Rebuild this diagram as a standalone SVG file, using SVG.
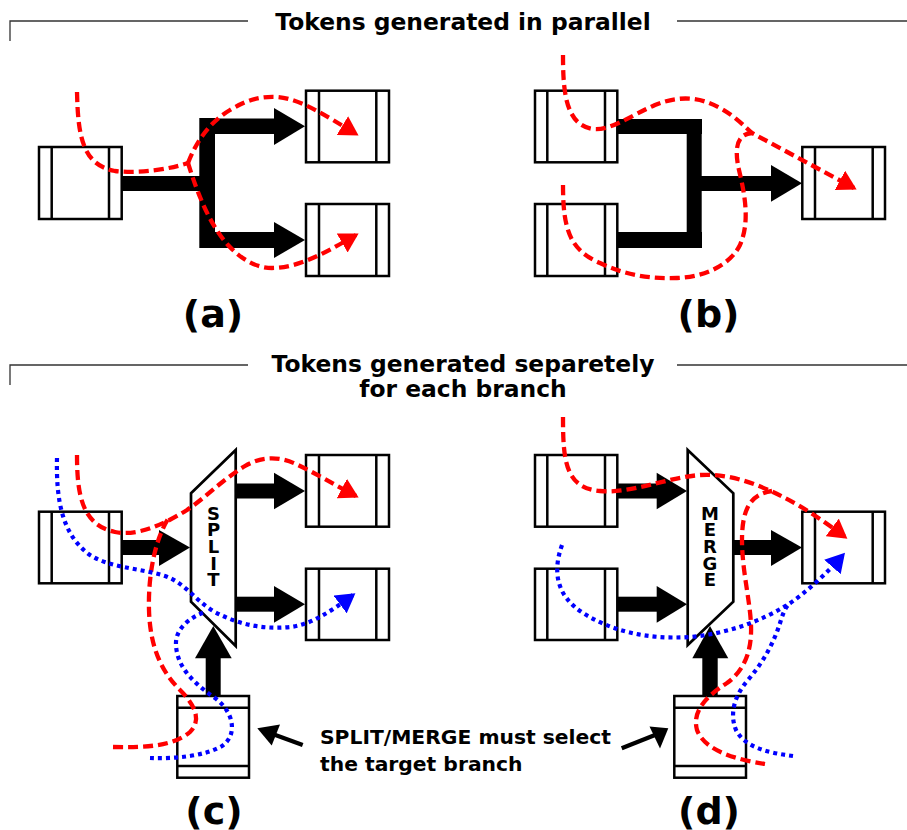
<svg xmlns="http://www.w3.org/2000/svg" width="907" height="830" viewBox="0 0 907 830">
<style>
.box{fill:#fff;stroke:#000;stroke-width:2.5}
.in{stroke:#000;stroke-width:2.5}
.mux{fill:#fff;stroke:#000;stroke-width:2.7;stroke-linejoin:miter}
.sep{fill:none;stroke:#333;stroke-width:1.3}
.title{font-family:"DejaVu Sans","Liberation Sans",sans-serif;font-weight:bold;font-size:23.4px;text-anchor:middle;fill:#000}
.lab{font-family:"DejaVu Sans","Liberation Sans",sans-serif;font-weight:bold;font-size:38px;text-anchor:middle;fill:#000}
.note{font-family:"DejaVu Sans","Liberation Sans",sans-serif;font-weight:bold;font-size:20.3px;fill:#000}
.mt{font-family:"DejaVu Sans","Liberation Sans",sans-serif;font-weight:bold;font-size:18px;text-anchor:middle;fill:#000}
.red{fill:none;stroke:#f00;stroke-width:4.3;stroke-dasharray:10,5}
.blue{fill:none;stroke:#00f;stroke-width:4.2;stroke-dasharray:4,4}
.ptr{fill:none;stroke:#000;stroke-width:4.2}
</style>
<defs>
<marker id="ra" markerUnits="userSpaceOnUse" markerWidth="20" markerHeight="22" viewBox="0 0 20 22" refX="16" refY="11" orient="auto"><path d="M0,0 L19,11 L0,22 Z" fill="#f00"/></marker>
<marker id="ba" markerUnits="userSpaceOnUse" markerWidth="20" markerHeight="22" viewBox="0 0 20 22" refX="16" refY="11" orient="auto"><path d="M0,0 L19,11 L0,22 Z" fill="#00f"/></marker>
</defs>

<!-- section headers -->
<g id="header-top">
<path class="sep" d="M10,41 V21 H248 M677,21 H907"/>
<text class="title" x="463" y="30">Tokens generated in parallel</text>
</g>
<g id="header-bottom">
<path class="sep" d="M10,385 V365 H248 M677,365 H907"/>
<text class="title" x="463" y="371.5">Tokens generated separetely</text>
<text class="title" x="463" y="396.5">for each branch</text>
</g>

<!-- thick connectors -->
<g id="connectors" fill="#000">
<!-- (a) -->
<rect x="120" y="176" width="81" height="15"/>
<rect x="199.3" y="118" width="15.7" height="130"/>
<rect x="214" y="118.5" width="61" height="15.5"/>
<polygon points="274,108 305,126.3 274,145"/>
<rect x="214" y="232" width="61" height="16"/>
<polygon points="274,222 305,240 274,258"/>
<!-- (b) -->
<rect x="616" y="119" width="86" height="15"/>
<rect x="686.7" y="119" width="15" height="129"/>
<rect x="616" y="232" width="86" height="16"/>
<rect x="701" y="176" width="71" height="15"/>
<polygon points="771,165 802,183.3 771,201.7"/>
<!-- (c) -->
<rect x="120" y="540" width="40" height="15"/>
<polygon points="159,530 190,547.5 159,566"/>
<rect x="234" y="483.5" width="41" height="15"/>
<polygon points="274,472.7 305,491 274,509.3"/>
<rect x="234" y="596.7" width="41" height="15"/>
<polygon points="274,586 305,604.3 274,622.7"/>
<rect x="205.7" y="657" width="15" height="40"/>
<polygon points="195,658.3 213.3,626 231.7,658.3"/>
<!-- (d) -->
<rect x="616" y="483.5" width="41" height="15"/>
<polygon points="656.7,472.7 687,491 656.7,509.3"/>
<rect x="616" y="596.7" width="41" height="15"/>
<polygon points="656.7,586 687,604.3 656.7,622.7"/>
<rect x="732" y="540" width="40" height="15"/>
<polygon points="771,530 802,547.5 771,566"/>
<rect x="702.3" y="657" width="15.4" height="40"/>
<polygon points="692.3,658.3 710,626 728.3,658.3"/>
<!-- pointer arrows -->
<path class="ptr" d="M302.7,745 L274,734.5"/>
<polygon points="257.3,728.3 280,724.5 271.7,745.5"/>
<path class="ptr" d="M621.7,748.3 L655,735"/>
<polygon points="668.3,728.3 649.5,726.5 660,748.5"/>
</g>

<!-- nodes (a) -->
<g id="a-src"><rect class="box" x="39" y="147" width="82.7" height="72"/><path class="in" d="M51.7,147 V219 M109,147 V219"/></g>
<g id="a-dst1"><rect class="box" x="306" y="90.7" width="83" height="71.6"/><path class="in" d="M319,90.7 V162.3 M376.3,90.7 V162.3"/></g>
<g id="a-dst2"><rect class="box" x="306" y="204" width="83" height="72"/><path class="in" d="M319,204 V276 M376.3,204 V276"/></g>
<!-- nodes (b) -->
<g id="b-src1"><rect class="box" x="535" y="90.7" width="82.3" height="71.6"/><path class="in" d="M547.3,90.7 V162.3 M605,90.7 V162.3"/></g>
<g id="b-src2"><rect class="box" x="535" y="204" width="82.3" height="72"/><path class="in" d="M547.3,204 V276 M605,204 V276"/></g>
<g id="b-dst"><rect class="box" x="802.3" y="147" width="82.7" height="72"/><path class="in" d="M815,147 V219 M872.7,147 V219"/></g>
<!-- nodes (c) -->
<g id="c-src"><rect class="box" x="39" y="511.7" width="82.7" height="71.6"/><path class="in" d="M51.7,511.7 V583.3 M109,511.7 V583.3"/></g>
<g id="c-dst1"><rect class="box" x="306" y="455" width="83" height="71.7"/><path class="in" d="M319,455 V526.7 M376.3,455 V526.7"/></g>
<g id="c-dst2"><rect class="box" x="306" y="568.7" width="83" height="71.3"/><path class="in" d="M319,568.7 V640 M376.3,568.7 V640"/></g>
<g id="c-split">
<polygon class="mux" points="191,493.3 235.7,450 235.7,646 191,601.7"/>
<text class="mt" x="213.5"><tspan x="213.5" y="519.6">S</tspan><tspan x="213.5" y="536.3">P</tspan><tspan x="213.5" y="553">L</tspan><tspan x="213.5" y="569.7">I</tspan><tspan x="213.5" y="586.4">T</tspan></text>
</g>
<g id="c-ctrl"><rect class="box" x="177.3" y="696" width="71.7" height="81.7"/><path class="in" d="M177.3,707.7 H249 M177.3,766 H249"/></g>
<!-- nodes (d) -->
<g id="d-src1"><rect class="box" x="535" y="455" width="82.3" height="71.7"/><path class="in" d="M547.3,455 V526.7 M605,455 V526.7"/></g>
<g id="d-src2"><rect class="box" x="535" y="568.7" width="82.3" height="71.3"/><path class="in" d="M547.3,568.7 V640 M605,568.7 V640"/></g>
<g id="d-dst"><rect class="box" x="802.3" y="511.7" width="82.7" height="71.6"/><path class="in" d="M815,511.7 V583.3 M872.7,511.7 V583.3"/></g>
<g id="d-merge">
<polygon class="mux" points="687.7,450 733.3,493.3 733.3,601.7 687.7,645"/>
<text class="mt" x="710"><tspan x="710" y="519.6">M</tspan><tspan x="710" y="536.3">E</tspan><tspan x="710" y="553">R</tspan><tspan x="710" y="569.7">G</tspan><tspan x="710" y="586.4">E</tspan></text>
</g>
<g id="d-ctrl"><rect class="box" x="674.3" y="696" width="71.7" height="81.7"/><path class="in" d="M674.3,707.7 H746 M674.3,766 H746"/></g>

<!-- token flow paths -->
<g id="token-paths">
<!-- (a) -->
<path class="red" d="M77,92 C78,135 82,165 115,171 C140,174 170,169 188,163"/>
<path class="red" d="M188,163 C197,140 210,122 230,110 C248,99 262,96 278,97 C300,99 325,115 356,134" marker-end="url(#ra)"/>
<path class="red" d="M188,163 C198,195 210,225 228,245 C240,258 255,268 272,268 C300,268 330,250 356,235" marker-end="url(#ra)"/>
<!-- (b) -->
<path class="red" d="M563,55 C563,90 565,125 593,129 C610,131 630,116 655,105 C680,95 700,97 720,108 C735,116 745,127 752,133 L854,188" marker-end="url(#ra)"/>
<path class="red" d="M563,185 C563,230 570,250 600,263 C625,275 650,279 677,278 C705,277 730,265 740,245 C750,222 745,195 739,170 C734,148 737,134 752,133"/>
<!-- (c) -->
<path class="red" d="M77,455 C77,495 82,525 115,532 C135,536 160,527 187,510 C205,498 222,480 245,466 C262,456 280,456 298,465 C315,473 335,485 356,496" marker-end="url(#ra)"/>
<path class="red" d="M113,747 C150,748 175,745 190,732 C202,720 195,705 180,690 C160,670 150,645 149,610 C148,575 155,540 168,519"/>
<path class="blue" d="M57,458 C56,500 62,535 90,555 C110,568 140,568 165,576 C185,583 195,600 213,611 C235,623 260,630 290,627 C310,625 330,612 353,595" marker-end="url(#ba)"/>
<path class="blue" d="M150,758 C175,759 205,756 222,746 C238,735 234,712 215,698 C195,684 177,668 176,645 C175,630 188,618 205,612"/>
<!-- (d) -->
<path class="red" d="M563,417 C563,460 565,488 600,491 C630,494 665,478 700,475 C730,473 760,485 785,498 C805,508 825,522 845,537" marker-end="url(#ra)"/>
<path class="red" d="M765,764 C740,760 705,752 697,730 C692,712 705,697 727,683 C745,670 752,650 751,625 C750,600 742,570 742,540 C742,510 750,494 772,491"/>
<path class="blue" d="M562,545 C553,570 555,595 583,613 C610,630 645,640 690,637 C725,634 760,622 787,605 C805,594 828,572 843,555" marker-end="url(#ba)"/>
<path class="blue" d="M793,756 C770,753 745,748 736,730 C729,713 735,695 748,680 C765,660 775,640 781,620 C784,610 787,605 791,603"/>
</g>

<!-- labels -->
<g id="labels">
<text class="lab" x="213" y="327">(a)</text>
<text class="lab" x="708.5" y="327">(b)</text>
<text class="lab" x="214" y="824">(c)</text>
<text class="lab" x="709" y="824">(d)</text>
<text class="note" x="320" y="744">SPLIT/MERGE must select</text>
<text class="note" x="320" y="771">the target branch</text>
</g>
</svg>
